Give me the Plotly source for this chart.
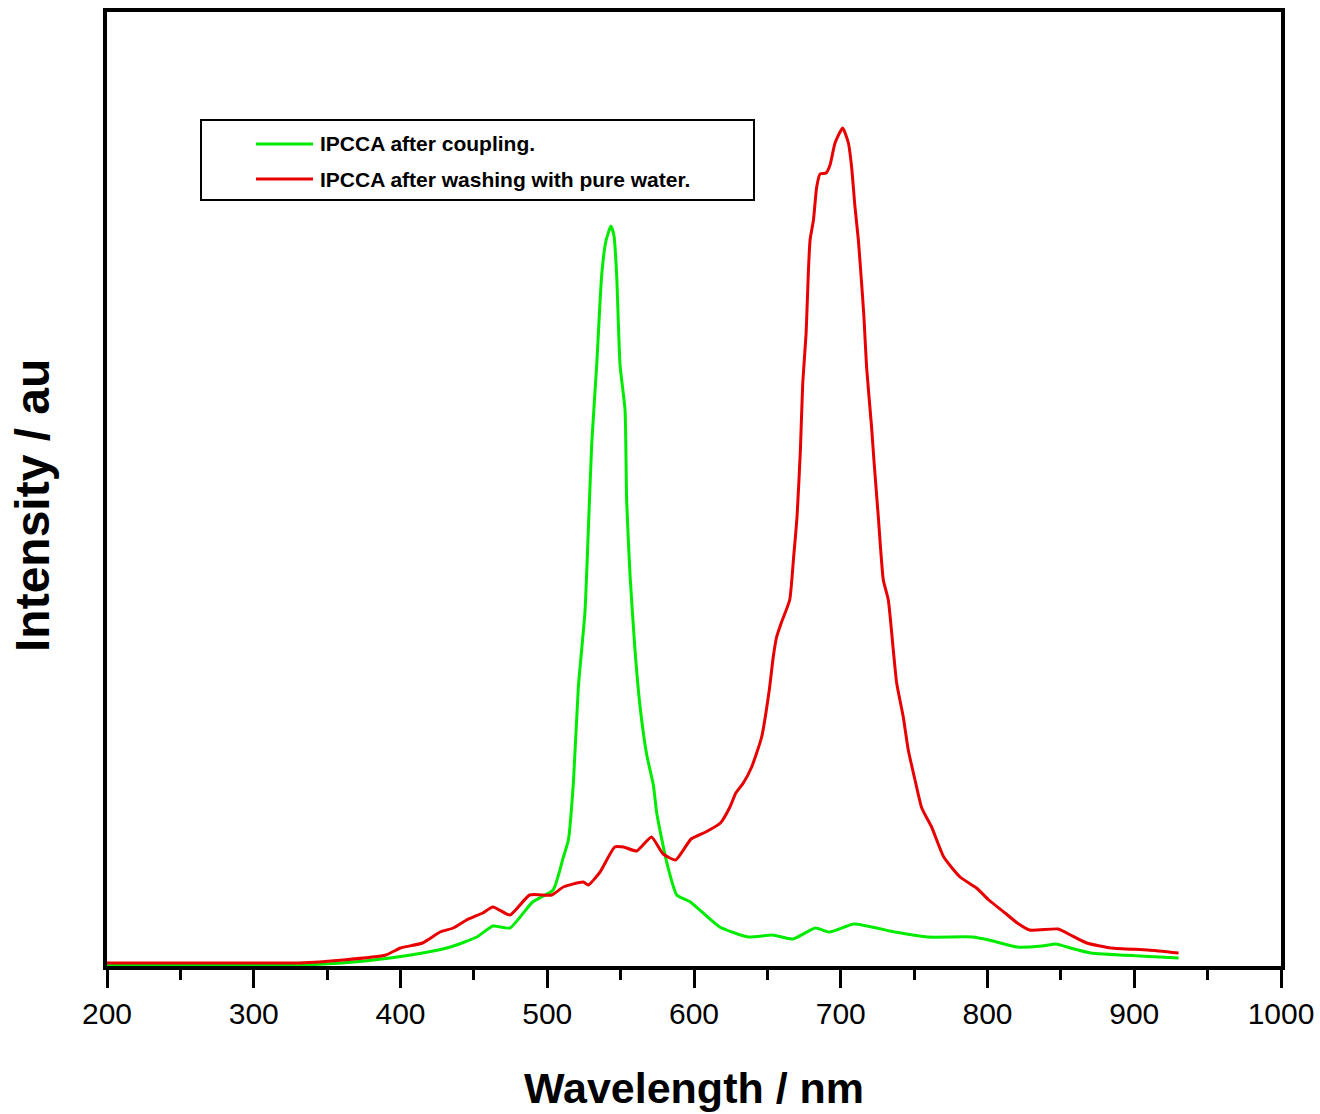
import plotly.graph_objects as go

# ---- data (wavelength in nm, intensity in arbitrary units) ----
green_nm = [200, 330, 360, 393, 415, 434, 452, 463, 474.6, 490, 504, 511, 514.4, 517.8,
            521.2, 525.7, 528, 530.3, 533.7, 537.1, 540, 543.4, 545.5, 547.3, 549.6, 553,
            554.1, 556.4, 559.8, 563.2, 567.8, 572.3, 574.6, 581.2, 588.3, 597.5, 617.5,
            637, 653.4, 667.4, 682.7, 692.4, 709.1, 736.9, 759.2, 789.7, 800.9, 820.3,
            837, 846.7, 856.5, 870.4, 903.8, 930.2]
green_int = [1, 1, 3, 8, 13, 19, 29, 40, 38, 64, 76, 109, 126, 183,
             279, 354, 436, 522, 601, 691, 725, 740, 730, 691, 601, 556,
             466, 391, 316, 260, 211, 181, 153, 105, 71, 64, 39,
             29, 31, 27, 38, 34, 42, 34, 29, 29, 26, 19,
             20, 22, 18, 13, 10, 8]

red_nm = [200, 300, 331, 361, 390, 400, 415, 427, 436, 445, 456, 463, 474.6, 488, 503,
          511, 524.5, 528, 536, 546, 552, 561, 571, 579, 587.5, 598, 608, 618, 624.5,
          628.5, 633.6, 639.3, 646.1, 651.3, 654, 656.3, 659.7, 665.2, 667.9, 670.2,
          672.5, 674.1, 676.4, 677.9, 679.1, 681.4, 683.6, 685.9, 690, 692.7, 696.1,
          701.3, 705.2, 707.4, 709.7, 712, 714.2, 715.8, 717.6, 721, 722.6, 725.6, 729,
          732.4, 735.8, 738.1, 742.6, 746, 750.6, 755.2, 761.9, 770.2, 781.3, 792.5,
          800.9, 812, 820.3, 828.7, 848.2, 856.5, 867.6, 884.3, 909.3, 930.2]
red_int = [3, 3, 3, 6, 11, 18, 23, 34, 38, 46, 53, 59, 51, 71, 71,
           79, 84, 81, 94, 119, 119, 115, 129, 112, 106, 127, 134, 143, 159,
           173, 183, 199, 229, 276, 309, 329, 344, 366, 409, 449,
           516, 583, 633, 693, 726, 746, 779, 792, 793, 801, 823,
           838, 823, 799, 759, 726, 683, 649, 599, 539, 506, 449, 386,
           366, 316, 283, 249, 216, 186, 158, 139, 109, 89, 78,
           66, 53, 43, 36, 37, 31, 23, 18, 16, 13]

series_names = ["IPCCA after coupling.", "IPCCA after washing with pure water."]
x_ticks = [200, 300, 400, 500, 600, 700, 800, 900, 1000]

GREEN = "rgb(0,235,0)"
RED = "rgb(232,0,0)"

fig = go.Figure()
fig.add_trace(go.Scatter(x=green_nm, y=green_int, mode="lines", name=series_names[0],
                         line=dict(color=GREEN, width=3, shape="spline", smoothing=0.5),
                         showlegend=False))
fig.add_trace(go.Scatter(x=red_nm, y=red_int, mode="lines", name=series_names[1],
                         line=dict(color=RED, width=3, shape="spline", smoothing=0.5),
                         showlegend=False))

W, H = 1320, 1114
L, R, T, B = 107, 39, 12, 148
pw, ph = W - L - R, H - T - B

def px_x(p):
    return (p - L) / pw

def px_y(p):
    return (H - B - p) / ph

fig.update_layout(
    width=W, height=H,
    margin=dict(l=L, r=R, t=T, b=B, pad=0),
    paper_bgcolor="white", plot_bgcolor="white",
    font=dict(family="Liberation Sans, Arial, sans-serif", color="black"),
    showlegend=False,
)
fig.update_xaxes(
    range=[200, 1000], tickvals=x_ticks, ticktext=[str(v) for v in x_ticks],
    ticks="outside", ticklen=18, tickwidth=3, tickcolor="black",
    tickfont=dict(size=30, family="Liberation Sans, Arial, sans-serif"),
    showline=True, linecolor="black", linewidth=4, mirror=True,
    showgrid=False, zeroline=False, automargin=False,
    minor=dict(dtick=50, ticks="outside", ticklen=10, tickwidth=3, tickcolor="black", showgrid=False),
)
fig.update_yaxes(
    range=[0, 954], showticklabels=False, ticks="",
    showline=True, linecolor="black", linewidth=4, mirror=True,
    showgrid=False, zeroline=False, automargin=False,
)

# axis titles
fig.add_annotation(text="<b>Wavelength / nm</b>", xref="paper", yref="paper",
                   x=px_x(694), y=px_y(1088), xanchor="center", yanchor="middle",
                   showarrow=False, font=dict(size=43, family="Liberation Sans, Arial, sans-serif"))
fig.add_annotation(text="<b>Intensity / au</b>", xref="paper", yref="paper",
                   x=px_x(32), y=px_y(506), xanchor="center", yanchor="middle",
                   textangle=-90, showarrow=False,
                   font=dict(size=48, family="Liberation Sans, Arial, sans-serif"))

# legend box
fig.add_shape(type="rect", xref="paper", yref="paper",
              x0=px_x(201), x1=px_x(754), y0=px_y(200), y1=px_y(120),
              line=dict(color="black", width=2), fillcolor="white", layer="above")
legend_rows = [(144, GREEN, series_names[0]), (179, RED, series_names[1])]
for yy, col, name in legend_rows:
    fig.add_shape(type="line", xref="paper", yref="paper",
                  x0=px_x(256), x1=px_x(313), y0=px_y(yy), y1=px_y(yy),
                  line=dict(color=col, width=3), layer="above")
    fig.add_annotation(text="<b>" + name + "</b>", xref="paper", yref="paper",
                       x=px_x(318), y=px_y(yy), xanchor="left", yanchor="middle",
                       showarrow=False, font=dict(size=21, family="Liberation Sans, Arial, sans-serif"))

fig.write_html("out.html")
